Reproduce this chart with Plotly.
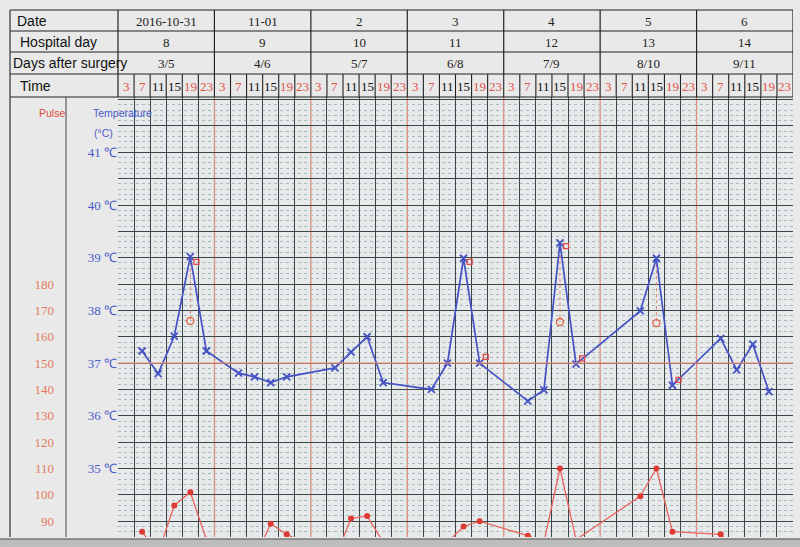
import numpy as np
import plotly.graph_objects as go

W, H = 800, 547

# ---------------- data ----------------
dates = ["2016-10-31", "11-01", "2", "3", "4", "5", "6"]
hospital_days = ["8", "9", "10", "11", "12", "13", "14"]
days_after_surgery = ["3/5", "4/6", "5/7", "6/8", "7/9", "8/10", "9/11"]
time_labels = ["3", "7", "11", "15", "19", "23"]
time_label_red = [True, True, False, False, True, True]

temp_ticks = [35, 36, 37, 38, 39, 40, 41]
pulse_ticks = [90, 100, 110, 120, 130, 140, 150, 160, 170, 180]

# measurement slot index (0 = 3:00 on 2016-10-31, six slots per day)
temp_slots = [1, 2, 3, 4, 5,
              7, 8, 9, 10,
              13, 14, 15, 16,
              19, 20, 21, 22,
              25, 26, 27, 28,
              32, 33, 34,
              37, 38, 39, 40]
temperature = [37.23, 36.80, 37.51, 39.02, 37.23,
               36.81, 36.74, 36.63, 36.74,
               36.91, 37.21, 37.50, 36.63,
               36.50, 37.00, 38.99, 37.00,
               36.28, 36.49, 39.28, 36.98,
               37.99, 38.99, 36.58,
               37.47, 36.87, 37.36, 36.46]

pulse_slots = temp_slots
pulse = [86, 78, 96, 101, 83,
         78, 76, 89, 85,
         76, 91, 92, 82,
         80, 82, 88, 90,
         84.5, 82, 110, 83,
         99.5, 110, 86,
         85, 79, 80, 78]

# physical-cooling re-measurements (red circles)
cooling_slots = [4, 27, 33]
cooling_temp = [37.80, 37.78, 37.76]

# small red marks beside some temperature points
mark_slots = [4, 21, 22, 27, 28, 34]
mark_temp = [38.92, 38.92, 37.12, 39.22, 37.09, 36.68]

# ---------------- geometry / style ----------------
X0, X1 = 118, 793          # plot area, px
Y_TOP, Y_BOT = 97, 537
ROWS = [10, 31, 52, 74, 97]  # header row lines, px
LEFT = 10
T_RANGE = [33.7, 42.05]
n_days = len(dates)
n_slots = n_days * len(time_labels)


def fx(p):
    return p / W


def fy(p):
    return 1 - p / H


def t_to_pulse(t):
    return 150 + 20 * (t - 37)


BLUE = "#4452c4"
RED = "#e0524a"
GRID = "#3d4646"
SALMON = "#e57a5c"
DAYRED = "#e58a78"

fig = go.Figure()

# dotted connectors peak -> cooled temperature
temp_lookup = dict(zip(temp_slots, temperature))
for s, c in zip(cooling_slots, cooling_temp):
    fig.add_trace(go.Scatter(x=[s + 0.5, s + 0.5], y=[temp_lookup[s], c], mode="lines",
                             line=dict(color="#e07a6a", width=1, dash="dot"),
                             hoverinfo="skip"))

fig.add_trace(go.Scatter(
    x=[s + 0.5 for s in pulse_slots], y=pulse, yaxis="y2", mode="lines+markers",
    line=dict(color="#e8645c", width=1.3),
    marker=dict(symbol="circle", size=6, color="#dc3a34"),
    name="Pulse"))

fig.add_trace(go.Scatter(
    x=[s + 0.5 for s in temp_slots], y=temperature, mode="lines+markers",
    line=dict(color=BLUE, width=1.7),
    marker=dict(symbol="x-thin", size=7, color=BLUE, line=dict(width=1.8, color=BLUE)),
    name="Temperature"))

fig.add_trace(go.Scatter(
    x=[s + 0.5 for s in cooling_slots], y=cooling_temp, mode="markers",
    marker=dict(symbol="circle-open", size=7, color="#e0603c",
                line=dict(width=1.3, color="#e0603c")),
    name="Cooled"))

fig.add_trace(go.Scatter(
    x=[s + 0.88 for s in mark_slots], y=mark_temp, mode="markers",
    marker=dict(symbol="square-open", size=5, color="#e04848",
                line=dict(width=1.3, color="#e04848")),
    name="mark"))

# axes
major = np.arange(34.0, 42.01, 0.5)
ticktext = [f"{int(v)} ℃" if (v in temp_ticks) else "" for v in major]
minor_vals = [round(v, 1) for v in np.arange(33.8, 42.05, 0.1) if abs(v * 2 - round(v * 2)) > 1e-6]
x_grid = [s for s in range(n_slots + 1) if s % 6 != 0 or s in (0, n_slots)]

fig.update_layout(
    width=W, height=H, margin=dict(l=0, r=0, t=0, b=0),
    paper_bgcolor="#e8e9e8", plot_bgcolor="#e6eaeb",
    showlegend=False,
    xaxis=dict(domain=[fx(X0), fx(X1)], range=[0, n_slots], tickvals=x_grid,
               showticklabels=False, showgrid=True, gridcolor=GRID, gridwidth=1,
               zeroline=False, ticks="", automargin=False),
    yaxis=dict(domain=[fy(Y_BOT), fy(Y_TOP)], range=T_RANGE, tickvals=list(major), ticktext=ticktext,
               showgrid=True, gridcolor=GRID, gridwidth=1, zeroline=False, ticks="",
               automargin=False,
               tickfont=dict(family="Liberation Serif", size=13, color="#4a5ac8"),
               minor=dict(tickvals=minor_vals, showgrid=True, gridcolor="#aab8ba",
                          griddash="dot", gridwidth=1, ticks="")),
    yaxis2=dict(overlaying="y", anchor="free", position=fx(54), side="left",
                range=[t_to_pulse(T_RANGE[0]), t_to_pulse(T_RANGE[1])], automargin=False,
                tickvals=pulse_ticks, showgrid=False, zeroline=False, ticks="",
                tickfont=dict(family="Liberation Serif", size=13, color=SALMON)),
)

shapes = []
# red lines in body: day boundaries and 37 C
for d in range(1, n_days):
    shapes.append(dict(type="line", xref="x", yref="paper", x0=6 * d, x1=6 * d,
                       y0=fy(Y_BOT), y1=fy(Y_TOP), line=dict(color=DAYRED, width=1.3),
                       layer="below"))
shapes.append(dict(type="line", xref="paper", yref="y", x0=fx(X0), x1=fx(X1), y0=37, y1=37,
                   line=dict(color=DAYRED, width=1.4), layer="above"))
# header horizontal lines
for r in ROWS:
    shapes.append(dict(type="line", xref="paper", yref="paper", x0=fx(LEFT), x1=fx(X1),
                       y0=fy(r), y1=fy(r), line=dict(color="#222", width=1.2)))
# header vertical lines
shapes.append(dict(type="line", xref="paper", yref="paper", x0=fx(LEFT), x1=fx(LEFT),
                   y0=fy(Y_BOT), y1=fy(ROWS[0]), line=dict(color="#333", width=1.2)))
shapes.append(dict(type="line", xref="paper", yref="paper", x0=fx(66), x1=fx(66),
                   y0=fy(Y_BOT), y1=fy(Y_TOP), line=dict(color="#444", width=1)))
shapes.append(dict(type="line", xref="paper", yref="paper", x0=fx(X0), x1=fx(X0),
                   y0=fy(Y_TOP), y1=fy(ROWS[0]), line=dict(color="#222", width=1.2)))
for d in range(1, n_days + 1):
    shapes.append(dict(type="line", xref="x", yref="paper", x0=6 * d, x1=6 * d,
                       y0=fy(ROWS[3]), y1=fy(ROWS[0]), line=dict(color="#222", width=1.2)))
for s in range(1, n_slots + 1):
    shapes.append(dict(type="line", xref="x", yref="paper", x0=s, x1=s,
                       y0=fy(ROWS[4]), y1=fy(ROWS[3]), line=dict(color="#222", width=1.1)))
# bottom bezel
shapes.append(dict(type="rect", xref="paper", yref="paper", x0=0, x1=1, y0=0, y1=fy(539),
                   fillcolor="#bdbdbb", line=dict(width=0)))
shapes.append(dict(type="line", xref="paper", yref="paper", x0=0, x1=1, y0=fy(539), y1=fy(539),
                   line=dict(color="#777", width=1.5)))
fig.update_layout(shapes=shapes)

ann = []
row_labels = ["Date", "Hospital day", "Days after surgery", "Time"]
row_x = [15, 18, 11, 18]
for i, lab in enumerate(row_labels):
    ann.append(dict(text=lab, xref="paper", yref="paper", x=fx(row_x[i]),
                    y=fy((ROWS[i] + ROWS[i + 1]) / 2 + 0.5), xanchor="left", yanchor="middle",
                    showarrow=False, font=dict(family="Liberation Sans", size=14, color="#111")))
for row, vals in enumerate([dates, hospital_days, days_after_surgery]):
    for d, v in enumerate(vals):
        ann.append(dict(text=v, xref="x", yref="paper", x=6 * d + 3,
                        y=fy((ROWS[row] + ROWS[row + 1]) / 2 + 0.5), showarrow=False,
                        xanchor="center", yanchor="middle",
                        font=dict(family="Liberation Serif", size=13, color="#222")))
for d in range(n_days):
    for k, t in enumerate(time_labels):
        ann.append(dict(text=t, xref="x", yref="paper", x=6 * d + k + 0.5,
                        y=fy((ROWS[3] + ROWS[4]) / 2 + 0.5), showarrow=False,
                        xanchor="center", yanchor="middle",
                        font=dict(family="Liberation Serif", size=13,
                                  color=RED if time_label_red[k] else "#111")))
ann.append(dict(text="Pulse", xref="paper", yref="paper", x=fx(37), y=fy(105), showarrow=False,
                font=dict(family="Liberation Sans", size=10.5, color="#e04a3c")))
ann.append(dict(text="Temperature", xref="paper", yref="paper", x=fx(91), y=fy(105), showarrow=False,
                font=dict(family="Liberation Sans", size=10.5, color="#4a5ac8")))
ann.append(dict(text="(°C)", xref="paper", yref="paper", x=fx(92), y=fy(125), showarrow=False,
                font=dict(family="Liberation Sans", size=10.5, color="#4a5ac8")))
fig.update_layout(annotations=ann)

fig.write_html("out.html", config={"displayModeBar": False},
               post_script="document.body.style.margin='0';document.body.style.overflow='hidden';")
